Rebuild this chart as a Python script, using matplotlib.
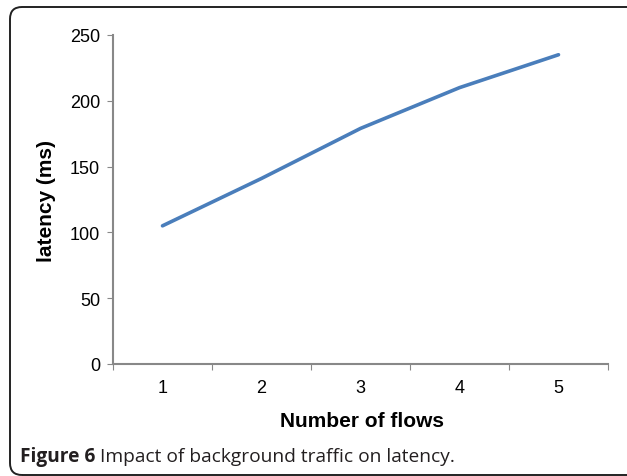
import matplotlib
matplotlib.use("Agg")
import matplotlib.pyplot as plt
from matplotlib.patches import FancyBboxPatch
from matplotlib.transforms import IdentityTransform

categories = ["1", "2", "3", "4", "5"]
latency = [105, 141, 179, 210, 235]
yticks = [0, 50, 100, 150, 200, 250]

W, H = 627, 477
fig = plt.figure(figsize=(W / 100, H / 100), dpi=100)
ax = fig.add_axes([113 / W, 1 - 365 / H, (608 - 113) / W, (365 - 36) / H])

xs = list(range(1, len(categories) + 1))
ax.plot(xs, latency, color="#4A7EBB", lw=2.6, solid_capstyle="round")

ax.set_xlim(0.5, len(categories) + 0.5)
ax.set_ylim(0, 250)
ax.set_yticks(yticks)
ax.set_yticklabels([str(v) for v in yticks], fontsize=13, family="Liberation Sans")
ax.set_xticks([i + 0.5 for i in range(0, len(categories) + 1)])
ax.set_xticklabels([])
ax.set_xticks(xs, minor=True)
ax.set_xticklabels(categories, minor=True, fontsize=13, family="Liberation Sans")
ax.tick_params(axis="x", which="minor", length=0, pad=11)
ax.tick_params(axis="x", which="major", length=4.3, color="#888888", direction="out")
ax.tick_params(axis="y", length=4.3, color="#888888", direction="out", pad=5)

for s in ["top", "right"]:
    ax.spines[s].set_visible(False)
for s in ["left", "bottom"]:
    ax.spines[s].set_color("#888888")
    ax.spines[s].set_linewidth(1.5)

fig.text(46 / W, 1 - 201 / H, "latency (ms)", rotation=90, ha="center", va="center",
         fontsize=15, fontweight="bold", family="Liberation Sans")
fig.text(362 / W, 1 - 422 / H, "Number of flows", ha="center", va="center",
         fontsize=15, fontweight="bold", family="Liberation Sans")

# border
box = FancyBboxPatch((10, 1), 640, 468, boxstyle="round,pad=0,rounding_size=12",
                     transform=IdentityTransform(), fill=False, edgecolor="#222222",
                     linewidth=1.4, figure=fig)
fig.patches.append(box)

# caption
t1 = fig.text(20 / W, 1 - 457 / H, "Figure 6", ha="left", va="center",
              fontsize=13.8, fontweight="bold", family="Open Sans", color="#231f20")
fig.canvas.draw()
r = fig.canvas.get_renderer()
bb = t1.get_window_extent(r)
fig.text((bb.x1 + 5) / W, 1 - 457 / H, "Impact of background traffic on latency.",
         ha="left", va="center", fontsize=13.8, family="Open Sans", color="#231f20")

fig.savefig("out.png", dpi=100)
